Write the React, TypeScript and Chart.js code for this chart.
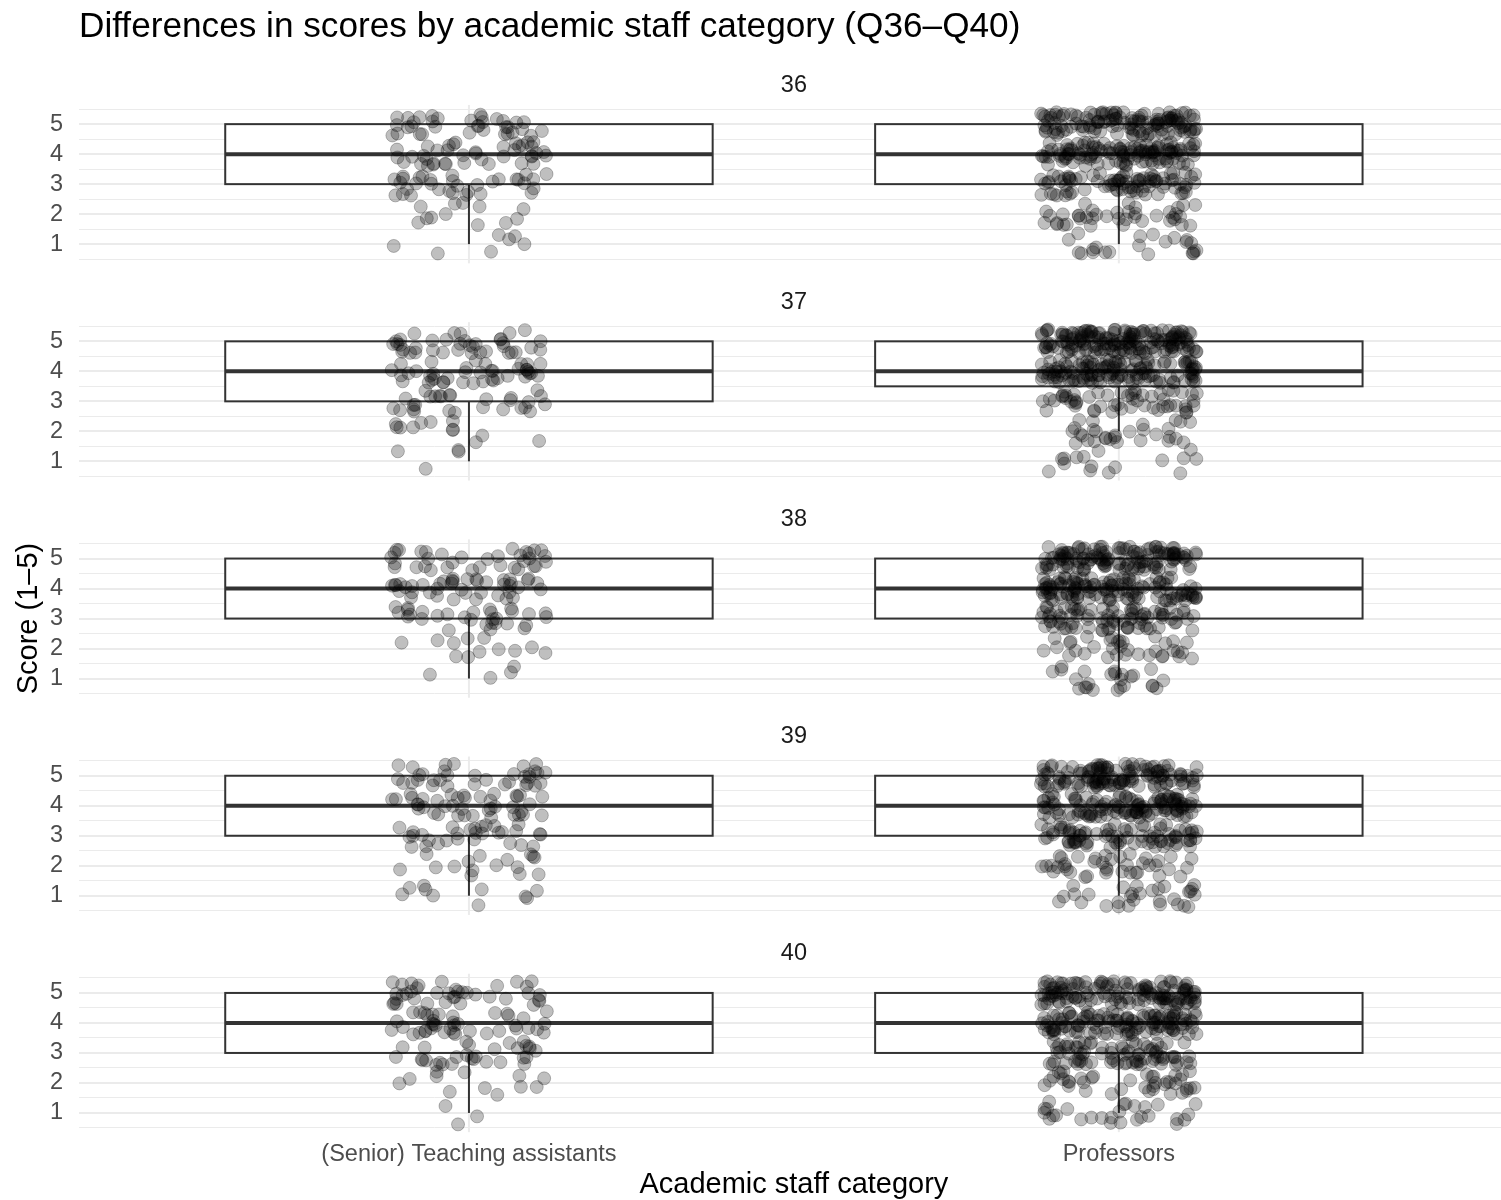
import React, { useEffect, useRef } from 'react';
import { Chart, registerables } from 'chart.js';

Chart.register(...registerables);

// ---------------- data ----------------
const TITLE = 'Differences in scores by academic staff category (Q36\u2013Q40)';
const X_TITLE = 'Academic staff category';
const Y_TITLE = 'Score (1\u20135)';
const QUESTIONS = ['36', '37', '38', '39', '40'];
const CATEGORIES = ['(Senior) Teaching assistants', 'Professors'];
const SCORES = [1, 2, 3, 4, 5];
const Y_TICKS = [0.5, 1, 1.5, 2, 2.5, 3, 3.5, 4, 4.5, 5, 5.5];

// number of respondents giving score 1..5, one row per question (Q36..Q40)
const TA_COUNTS = [
  [7, 12, 33, 40, 35],
  [4, 12, 28, 40, 38],
  [4, 12, 30, 42, 35],
  [10, 16, 30, 40, 34],
  [3, 12, 30, 40, 38],
];
const PROF_COUNTS = [
  [22, 40, 85, 120, 130],
  [16, 30, 55, 132, 170],
  [25, 35, 85, 125, 135],
  [30, 40, 85, 120, 130],
  [28, 40, 80, 120, 135],
];
const GROUP_COUNTS = [TA_COUNTS, PROF_COUNTS];

// ---------------- layout / style constants ----------------
const FONT = '"Liberation Sans", Arial, Helvetica, sans-serif';
const Y_MIN = 0.29;
const Y_MAX = 7.53;
const PANEL_LO = 0.36;
const PANEL_HI = 5.64;
const STRIP_AT = 6.3;
const X_MIN = 0.4;
const X_MAX = 2.588;
const BOX_HALF = 0.375;
const JITTER_W = 0.12;
const JITTER_H = 0.4;
const GRID = '#ebebeb';
const BOX_LINE = '#333333';
const POINT_COLOR = 'rgba(0,0,0,0.25)';

// deterministic jitter generator (only used for the display offset of each point)
function makeJitter(seed: number) {
  let a = seed >>> 0;
  return () => {
    a = (a + 0x6d2b79f5) >>> 0;
    let t = a;
    t = Math.imul(t ^ (t >>> 15), t | 1);
    t ^= t + Math.imul(t ^ (t >>> 7), t | 61);
    return ((t ^ (t >>> 14)) >>> 0) / 4294967296;
  };
}

function expand(counts: number[]) {
  const arr: number[] = [];
  counts.forEach((c, i) => {
    for (let k = 0; k < c; k++) arr.push(SCORES[i]);
  });
  return arr;
}

function quantile7(arr: number[], p: number) {
  const h = (arr.length - 1) * p;
  const lo = Math.floor(h);
  const hi = Math.ceil(h);
  return arr[lo] + (h - lo) * (arr[hi] - arr[lo]);
}

function boxStats(counts: number[]) {
  const a = expand(counts);
  const q1 = quantile7(a, 0.25);
  const med = quantile7(a, 0.5);
  const q3 = quantile7(a, 0.75);
  const iqr = q3 - q1;
  const lo = Math.min(...a.filter((v) => v >= q1 - 1.5 * iqr));
  const hi = Math.max(...a.filter((v) => v <= q3 + 1.5 * iqr));
  return { q1, med, q3, lo, hi };
}

const facetPlugin = {
  id: 'facetBoxes',
  beforeDatasetsDraw(chart: any) {
    const { ctx } = chart;
    const xs = chart.scales.x;
    ctx.save();
    QUESTIONS.forEach((_q, f) => {
      const ys = chart.scales['y' + f];
      // vertical major grid lines of each panel
      ctx.strokeStyle = GRID;
      ctx.lineWidth = 2;
      CATEGORIES.forEach((_c, g) => {
        const px = xs.getPixelForValue(g + 1);
        ctx.beginPath();
        ctx.moveTo(px, ys.getPixelForValue(PANEL_LO));
        ctx.lineTo(px, ys.getPixelForValue(PANEL_HI));
        ctx.stroke();
      });
      GROUP_COUNTS.forEach((counts, g) => {
        const s = boxStats(counts[f]);
        const xc = xs.getPixelForValue(g + 1);
        const xl = xs.getPixelForValue(g + 1 - BOX_HALF);
        const xr = xs.getPixelForValue(g + 1 + BOX_HALF);
        const yq1 = ys.getPixelForValue(s.q1);
        const yq3 = ys.getPixelForValue(s.q3);
        ctx.strokeStyle = BOX_LINE;
        ctx.lineWidth = 2;
        ctx.beginPath();
        ctx.moveTo(xc, yq3);
        ctx.lineTo(xc, ys.getPixelForValue(s.hi));
        ctx.moveTo(xc, yq1);
        ctx.lineTo(xc, ys.getPixelForValue(s.lo));
        ctx.stroke();
        ctx.fillStyle = '#ffffff';
        ctx.fillRect(xl, yq3, xr - xl, yq1 - yq3);
        ctx.strokeRect(xl, yq3, xr - xl, yq1 - yq3);
        ctx.lineWidth = 4;
        ctx.beginPath();
        const ym = ys.getPixelForValue(s.med);
        ctx.moveTo(xl, ym);
        ctx.lineTo(xr, ym);
        ctx.stroke();
      });
    });
    ctx.restore();
  },
  afterDraw(chart: any) {
    const { ctx } = chart;
    const xs = chart.scales.x;
    const xMid = xs.getPixelForValue(1.5);
    ctx.save();
    // strip labels
    ctx.fillStyle = '#1a1a1a';
    ctx.font = `23.5px ${FONT}`;
    ctx.textAlign = 'center';
    ctx.textBaseline = 'middle';
    QUESTIONS.forEach((q, f) => {
      const ys = chart.scales['y' + f];
      ctx.fillText(q, xMid, ys.getPixelForValue(STRIP_AT));
    });
    // axis titles
    ctx.fillStyle = '#000000';
    ctx.font = `29px ${FONT}`;
    ctx.fillText(X_TITLE, xMid, chart.height - 15);
    const top = chart.scales.y0.getPixelForValue(PANEL_HI);
    const bottom = chart.scales['y' + (QUESTIONS.length - 1)].getPixelForValue(PANEL_LO);
    ctx.translate(29, (top + bottom) / 2);
    ctx.rotate(-Math.PI / 2);
    ctx.fillText(Y_TITLE, 0, 0);
    ctx.restore();
  },
};

export default function App() {
  const ref = useRef<HTMLCanvasElement | null>(null);
  useEffect(() => {
    if (!ref.current) return;
    const datasets: any[] = [];
    QUESTIONS.forEach((_q, f) => {
      GROUP_COUNTS.forEach((counts, g) => {
        const rnd = makeJitter(1000 + f * 17 + g * 7919);
        const pts: { x: number; y: number }[] = [];
        counts[f].forEach((c, i) => {
          for (let k = 0; k < c; k++) {
            pts.push({
              x: g + 1 + (rnd() * 2 - 1) * JITTER_W,
              y: SCORES[i] + (rnd() * 2 - 1) * JITTER_H,
            });
          }
        });
        datasets.push({
          type: 'scatter',
          label: `Q${QUESTIONS[f]} ${CATEGORIES[g]}`,
          data: pts,
          xAxisID: 'x',
          yAxisID: 'y' + f,
          pointRadius: 6.5,
          pointBorderWidth: 1,
          backgroundColor: POINT_COLOR,
          borderColor: POINT_COLOR,
          pointHoverRadius: 6.5,
        });
      });
    });

    const scales: any = {
      x: {
        type: 'linear',
        position: 'bottom',
        min: X_MIN,
        max: X_MAX,
        afterBuildTicks: (s: any) => {
          s.ticks = CATEGORIES.map((_c, i) => ({ value: i + 1 }));
        },
        afterFit: (s: any) => {
          s.height = 65.75;
        },
        ticks: {
          callback: (v: any) => CATEGORIES[Math.round(Number(v)) - 1] ?? '',
          color: '#4d4d4d',
          font: { size: 23.5, family: FONT },
          padding: 6,
          maxRotation: 0,
          autoSkip: false,
        },
        grid: { display: false, drawTicks: false },
        border: { display: false },
      },
    };
    // stacked left axes are laid out last-defined-on-top, so define Q40 first
    for (let f = QUESTIONS.length - 1; f >= 0; f--) {
      scales['y' + f] = {
        type: 'linear',
        position: 'left',
        stack: 'facets',
        stackWeight: 1,
        offset: false,
        min: Y_MIN,
        max: Y_MAX,
        afterBuildTicks: (s: any) => {
          s.ticks = Y_TICKS.map((v) => ({ value: v }));
        },
        afterFit: (s: any) => {
          s.width = 79;
        },
        ticks: {
          callback: (v: any) => (Number.isInteger(Number(v)) ? String(v) : ''),
          color: '#4d4d4d',
          font: { size: 23.5, family: FONT },
          padding: 16,
          autoSkip: false,
        },
        grid: {
          drawTicks: false,
          color: (c: any) => (c.tick && c.tick.value <= 5.5 ? GRID : 'rgba(0,0,0,0)'),
          lineWidth: (c: any) => (c.tick && Number.isInteger(c.tick.value) ? 2 : 1),
        },
        border: { display: false },
      };
    }

    const chart = new Chart(ref.current, {
      type: 'scatter',
      data: { datasets },
      options: {
        animation: false,
        responsive: true,
        maintainAspectRatio: false,
        events: [],
        layout: { padding: 0, autoPadding: false },
        plugins: {
          legend: { display: false },
          tooltip: { enabled: false },
          title: {
            display: true,
            text: TITLE,
            align: 'start',
            fullSize: false,
            color: '#000000',
            font: { size: 35.2, family: FONT, weight: 'normal', lineHeight: 1.2 },
            padding: { top: 6, bottom: 0 },
          },
        },
        scales,
      },
      plugins: [facetPlugin],
    } as any);
    return () => chart.destroy();
  }, []);

  return (
    <div style={{ position: 'absolute', left: 0, top: 0, width: 1501, height: 1200, background: '#fff', overflow: 'hidden' }}>
      <canvas ref={ref} style={{ display: 'block' }} />
    </div>
  );
}
